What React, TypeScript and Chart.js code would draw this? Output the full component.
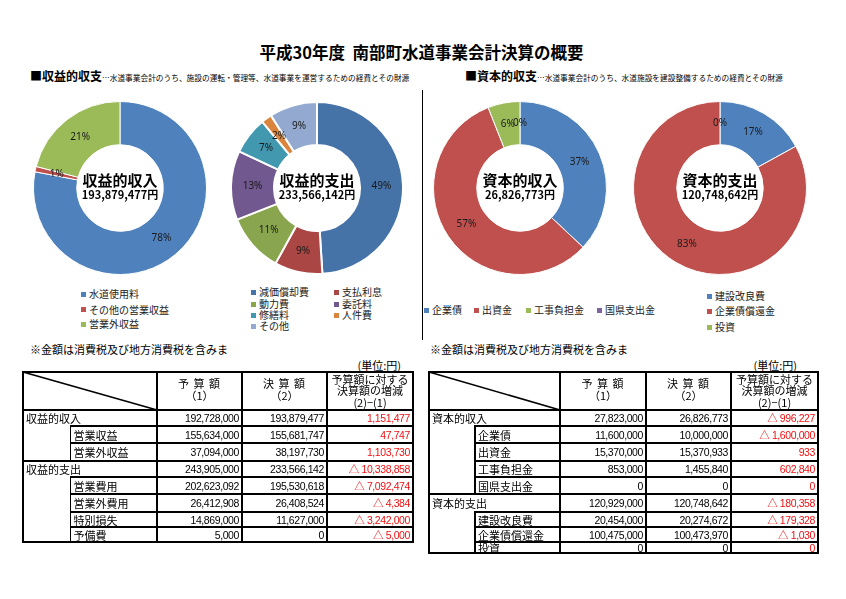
import React, { useEffect, useRef } from 'react';
import { Chart, registerables } from 'chart.js';

Chart.register(...registerables);

const JP = '"Noto Sans CJK JP", "Noto Sans", sans-serif';
const NUM = '"Liberation Sans", Arial, "Noto Sans CJK JP", sans-serif';

// ---------- chart data (shares in %) ----------
const revenueIncomeLabels = ['水道使用料', 'その他の営業収益', '営業外収益'];
const revenueIncomeShare = [78, 1, 21];
const revenueExpenseLabels = ['減価償却費', '支払利息', '動力費', '委託料', '修繕料', '人件費', 'その他'];
const revenueExpenseShare = [49, 9, 11, 13, 7, 2, 9];
const capitalIncomeLabels = ['企業債', '出資金', '工事負担金', '国県支出金'];
const capitalIncomeShare = [37, 57, 6, 0];
const capitalExpenseLabels = ['建設改良費', '企業債償還金', '投資'];
const capitalExpenseShare = [17, 83, 0];

// ---------- table data (yen) ----------
const revenueRowLabels = ['収益的収入', '営業収益', '営業外収益', '収益的支出', '営業費用', '営業外費用', '特別損失', '予備費'];
const revenueRowLevels = [0, 1, 1, 0, 1, 1, 1, 1];
const revenueBudget = [192728000, 155634000, 37094000, 243905000, 202623092, 26412908, 14869000, 5000];
const revenueActual = [193879477, 155681747, 38197730, 233566142, 195530618, 26408524, 11627000, 0];

const capitalRowLabels = ['資本的収入', '企業債', '出資金', '工事負担金', '国県支出金', '資本的支出', '建設改良費', '企業債償還金', '投資'];
const capitalRowLevels = [0, 1, 1, 1, 1, 0, 1, 1, 1];
const capitalBudget = [27823000, 11600000, 15370000, 853000, 0, 120929000, 20454000, 100475000, 0];
const capitalActual = [26826773, 10000000, 15370933, 1455840, 0, 120748642, 20274672, 100473970, 0];

// ---------- styles ----------
const paletteA = ['#4F81BD', '#C0504D', '#9BBB59', '#8064A2'];
const paletteB = ['#4572A7', '#AA4643', '#89A54E', '#71588F', '#4198AF', '#DB843D', '#93A9CF'];

const fmt = (n: number) => n.toLocaleString('en-US');
const fmtDiff = (n: number) => (n < 0 ? '△ ' + fmt(-n) : fmt(n));

const W = 846;

function Txt(props: any) {
  const { x, y, size, children, bold = false, color = '#000', align = 'left', font = JP, ls = 0 } = props;
  const h = Math.round(size * 1.4);
  const style: any = {
    position: 'absolute',
    top: y - h / 2,
    height: h,
    lineHeight: h + 'px',
    fontSize: size,
    fontFamily: font,
    fontWeight: bold ? 700 : 400,
    color,
    whiteSpace: 'nowrap',
    letterSpacing: ls,
  };
  if (align === 'left') style.left = x;
  else if (align === 'right') style.right = W - x;
  else {
    style.left = x - 200;
    style.width = 400;
    style.textAlign = 'center';
  }
  return <div style={style}>{children}</div>;
}

const makeLabelPlugin = (title: string, amount: string) => ({
  id: 'donutText',
  afterDatasetsDraw(chart: any) {
    const ctx = chart.ctx;
    const meta = chart.getDatasetMeta(0);
    const vals = chart.data.datasets[0].data as number[];
    const total = vals.reduce((a, b) => a + b, 0);
    ctx.save();
    ctx.textAlign = 'center';
    ctx.textBaseline = 'middle';
    ctx.fillStyle = '#1a1a1a';
    ctx.font = '10px "Noto Sans", sans-serif';
    meta.data.forEach((arc: any, i: number) => {
      const p = arc.getProps(['x', 'y', 'startAngle', 'endAngle', 'innerRadius', 'outerRadius'], true);
      const mid = (p.startAngle + p.endAngle) / 2;
      const r = (p.innerRadius + p.outerRadius) / 2;
      ctx.fillText(Math.round((vals[i] / total) * 100) + '%', p.x + Math.cos(mid) * r, p.y + Math.sin(mid) * r);
    });
    const a0 = meta.data[0];
    ctx.fillStyle = '#000';
    ctx.font = 'bold 15px ' + JP;
    ctx.fillText(title, a0.x, a0.y - 8);
    ctx.font = 'bold 11px ' + JP;
    ctx.fillText(amount, a0.x, a0.y + 7);
    ctx.restore();
  },
});

const S = 174;

function Donut(props: any) {
  const { labels, values, colors, title, amount, cx, cy, border } = props;
  const ref = useRef<HTMLCanvasElement>(null);
  useEffect(() => {
    const chart = new Chart(ref.current as HTMLCanvasElement, {
      type: 'doughnut',
      data: {
        labels,
        datasets: [{ data: values, backgroundColor: colors, borderColor: '#ffffff', borderWidth: border }],
      },
      options: {
        responsive: false,
        animation: false,
        devicePixelRatio: 1,
        cutout: '50%',
        layout: { padding: 0 },
        plugins: { legend: { display: false }, tooltip: { enabled: false } },
      } as any,
      plugins: [makeLabelPlugin(title, amount)],
    });
    return () => chart.destroy();
  }, []);
  return (
    <canvas
      ref={ref}
      width={S}
      height={S}
      style={{ position: 'absolute', left: cx - S / 2, top: cy - S / 2, width: S, height: S }}
    />
  );
}

function Legend(props: any) {
  const { labels, colors, pos } = props;
  return (
    <>
      {labels.map((l: string, i: number) => (
        <React.Fragment key={i}>
          <div
            style={{
              position: 'absolute',
              left: pos[i][0],
              top: pos[i][1] - 2.5,
              width: 5,
              height: 5,
              background: colors[i],
            }}
          />
          <Txt x={pos[i][0] + 8} y={pos[i][1]} size={10} color="#222">
            {l}
          </Txt>
        </React.Fragment>
      ))}
    </>
  );
}

function Table(props: any) {
  const { labels, levels, budget, actual, x0, xSub, xc, top, head, rowH } = props;
  const bounds: number[] = [head];
  rowH.forEach((h: number) => bounds.push(bounds[bounds.length - 1] + h));
  const bottom = bounds[bounds.length - 1];
  const right = xc[3];
  const els: any[] = [];
  let k = 0;
  const hl = (x1: number, x2: number, y: number, t = 2) =>
    els.push(
      <div key={'h' + k++} style={{ position: 'absolute', left: x1 - t / 2, top: y - t / 2, width: x2 - x1 + t, height: t, background: '#000' }} />
    );
  const vl = (x: number, y1: number, y2: number, t = 2) =>
    els.push(
      <div key={'v' + k++} style={{ position: 'absolute', left: x - t / 2, top: y1, width: t, height: y2 - y1, background: '#000' }} />
    );
  hl(x0, right, top);
  hl(x0, right, head);
  for (let i = 1; i < labels.length; i++) hl(levels[i] === 0 ? x0 : xSub, right, bounds[i]);
  hl(x0, right, bottom, 1.5);
  vl(x0, top - 1, bottom + 1);
  xc.forEach((x: number) => vl(x, top - 1, bottom + 1));
  for (let i = 0; i < labels.length; i++) if (levels[i] === 1) vl(xSub, bounds[i], bounds[i + 1], 1.2);

  const c1 = (xc[0] + xc[1]) / 2;
  const c2 = (xc[1] + xc[2]) / 2;
  const c3 = (xc[2] + xc[3]) / 2;
  return (
    <>
      {els}
      <svg style={{ position: 'absolute', left: 0, top: 0, width: W, height: 599, pointerEvents: 'none' }}>
        <line x1={x0} y1={top} x2={xc[0]} y2={head} stroke="#000" strokeWidth={1.6} />
      </svg>
      <Txt x={c1} y={top + 11} size={11} align="center" ls={1}>予 算 額</Txt>
      <Txt x={c1} y={top + 23} size={11} align="center">（1）</Txt>
      <Txt x={c2} y={top + 11} size={11} align="center" ls={1}>決 算 額</Txt>
      <Txt x={c2} y={top + 23} size={11} align="center">（2）</Txt>
      <Txt x={c3} y={top + 7} size={11} align="center">予算額に対する</Txt>
      <Txt x={c3} y={top + 18} size={11} align="center">決算額の増減</Txt>
      <Txt x={c3} y={top + 30} size={11} align="center">(2)−(1)</Txt>
      {labels.map((l: string, i: number) => {
        const cy = (bounds[i] + bounds[i + 1]) / 2 + 0.5;
        const d = actual[i] - budget[i];
        return (
          <React.Fragment key={i}>
            <Txt x={(levels[i] === 0 ? x0 : xSub) + 3} y={cy} size={11}>{l}</Txt>
            <Txt x={xc[1] - 3} y={cy} size={10.5} align="right" font={NUM} ls={-0.4}>{fmt(budget[i])}</Txt>
            <Txt x={xc[2] - 3} y={cy} size={10.5} align="right" font={NUM} ls={-0.4}>{fmt(actual[i])}</Txt>
            <Txt x={xc[3] - 3} y={cy} size={10.5} align="right" font={NUM} ls={-0.4} color="#ee1111">{fmtDiff(d)}</Txt>
          </React.Fragment>
        );
      })}
    </>
  );
}

export default function App() {
  return (
    <div
      style={{
        position: 'absolute',
        left: 0,
        top: 0,
        width: W,
        height: 599,
        background: '#fff',
        overflow: 'hidden',
        fontFamily: JP,
      }}
    >
      <Txt x={421.5} y={52} size={16.5} bold align="center">平成30年度&nbsp;&nbsp;南部町水道事業会計決算の概要</Txt>

      <div style={{ position: 'absolute', left: 30, top: 66, whiteSpace: 'nowrap', fontFamily: JP, lineHeight: '17px' }}>
        <span style={{ fontSize: 12, fontWeight: 700 }}>■収益的収支</span>
        <span style={{ fontSize: 7.7 }}>…水道事業会計のうち、施設の運転・管理等、水道事業を運営するための経費とその財源</span>
      </div>
      <div style={{ position: 'absolute', left: 465, top: 66, whiteSpace: 'nowrap', fontFamily: JP, lineHeight: '17px' }}>
        <span style={{ fontSize: 12, fontWeight: 700 }}>■資本的収支</span>
        <span style={{ fontSize: 7.7 }}>…水道事業会計のうち、水道施設を建設整備するための経費とその財源</span>
      </div>

      <div style={{ position: 'absolute', left: 421.5, top: 90, width: 1, height: 250, background: '#000' }} />

      <Donut labels={revenueIncomeLabels} values={revenueIncomeShare} colors={paletteA.slice(0, 3)}
        title="収益的収入" amount={fmt(revenueActual[0]) + '円'} cx={119.5} cy={187.5} border={1} />
      <Donut labels={revenueExpenseLabels} values={revenueExpenseShare} colors={paletteB}
        title="収益的支出" amount={fmt(revenueActual[3]) + '円'} cx={316.5} cy={187.5} border={2} />
      <Donut labels={capitalIncomeLabels} values={capitalIncomeShare} colors={paletteA}
        title="資本的収入" amount={fmt(capitalActual[0]) + '円'} cx={519.5} cy={187.5} border={1} />
      <Donut labels={capitalExpenseLabels} values={capitalExpenseShare} colors={paletteA.slice(0, 3)}
        title="資本的支出" amount={fmt(capitalActual[5]) + '円'} cx={720} cy={187.5} border={1} />

      <Legend labels={revenueIncomeLabels} colors={paletteA} pos={[[81, 294], [81, 309.5], [81, 324]]} />
      <Legend labels={revenueExpenseLabels} colors={paletteB}
        pos={[[251, 292], [334, 292], [251, 304], [334, 304], [251, 315], [334, 315], [251, 326]]} />
      <Legend labels={capitalIncomeLabels} colors={paletteA} pos={[[424, 310], [474, 310], [526, 310], [597, 310]]} />
      <Legend labels={capitalExpenseLabels} colors={paletteA} pos={[[707, 296], [707, 311], [707, 327]]} />

      <Txt x={30} y={349} size={11}>※金額は消費税及び地方消費税を含みま</Txt>
      <Txt x={430} y={349} size={11}>※金額は消費税及び地方消費税を含みま</Txt>
      <Txt x={401} y={365} size={11} align="right">(単位:円)</Txt>
      <Txt x={797} y={365} size={11} align="right">(単位:円)</Txt>

      <Table labels={revenueRowLabels} levels={revenueRowLevels} budget={revenueBudget} actual={revenueActual}
        x0={23} xSub={70.5} xc={[157, 242, 327, 413]} top={372} head={410} rowH={[16, 17, 18, 16, 17, 18, 15, 15]} />
      <Table labels={capitalRowLabels} levels={capitalRowLevels} budget={capitalBudget} actual={capitalActual}
        x0={429} xSub={475} xc={[560, 646, 731, 818]} top={372} head={410} rowH={[16, 17, 18, 16, 17, 18, 15, 15, 11]} />
    </div>
  );
}
